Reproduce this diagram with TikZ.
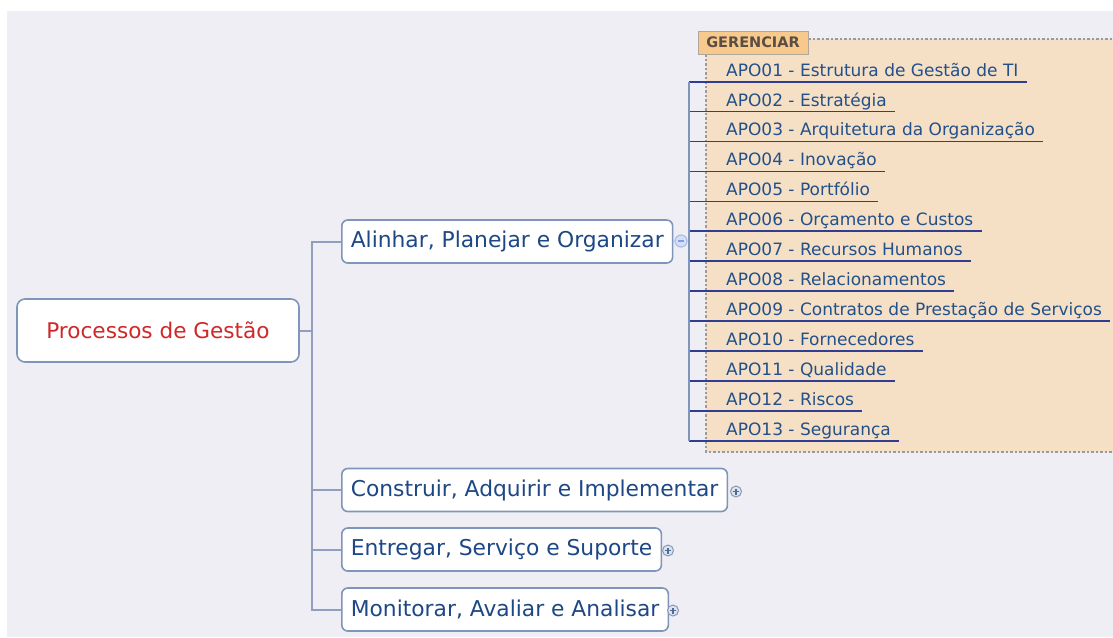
\documentclass[tikz,border=0pt]{standalone}
\usepackage{fontspec}
\setmainfont{DejaVu Sans}
\definecolor{bggray}{HTML}{EFEEF4}
\definecolor{peach}{HTML}{F5E0C6}
\definecolor{labelfill}{HTML}{F8C98C}
\definecolor{labelborder}{HTML}{B0A898}
\definecolor{labeltext}{HTML}{5A4E44}
\definecolor{roottext}{HTML}{D02828}
\definecolor{nodetext}{HTML}{1E4785}
\definecolor{apotext}{HTML}{22508A}
\definecolor{boxborder}{HTML}{7F95BA}
\definecolor{connline}{HTML}{8EA0BE}
\definecolor{navy}{HTML}{2F3E93}
\definecolor{dashgray}{HTML}{9A9A9A}
\definecolor{iconfill}{HTML}{DCE3EE}
\definecolor{iconborder}{HTML}{8A9AB5}
\definecolor{minusfill}{HTML}{D4E0F6}
\definecolor{minusborder}{HTML}{A9C0EA}
\begin{document}
\begin{tikzpicture}[x=1pt,y=-1pt,
  rootbox/.style={draw=boxborder,line width=1.6pt,fill=white,rounded corners=8pt,
    minimum width=282pt,minimum height=63pt,inner sep=0pt,text=roottext,
    font=\fontsize{21.6}{26}\selectfont},
  mainbox/.style={draw=boxborder,line width=1.6pt,fill=white,rounded corners=6pt,
    minimum height=43pt,inner xsep=9pt,inner ysep=0pt,text=nodetext,
    font=\fontsize{21.8}{26}\selectfont,anchor=west},
  apo/.style={anchor=south west,inner xsep=8pt,inner ysep=0pt,text height=13pt,
    text depth=5.4pt,text=apotext,font=\fontsize{17}{20}\selectfont},
  uline/.style={draw=navy,line width=1.7pt},
  vline/.style={draw=boxborder,line width=1.7pt},
  conn/.style={draw=connline,line width=2pt},
  gerlabel/.style={draw=labelborder,fill=labelfill,line width=1pt,minimum width=110pt,
    minimum height=23pt,inner sep=0pt,text=labeltext,font=\fontsize{14.5}{17}\bfseries\selectfont},
  plusicon/.style={circle,draw=iconborder,fill=iconfill,line width=1pt,minimum size=11pt,inner sep=0pt},
  minusicon/.style={circle,draw=minusborder,fill=minusfill,line width=1.2pt,minimum size=12pt,inner sep=0pt},
  sign/.style={draw=nodetext!80,line width=1.1pt}
]
\useasboundingbox (0,0) rectangle (1113,637);
\fill[white] (0,0) rectangle (1113,637);
\fill[bggray] (7,11) rectangle (1113,637);

% GERENCIAR area
\fill[peach] (706,39) rectangle (1113,452);
\draw[dashgray,dash pattern=on 2.5pt off 2pt,line width=1.2pt] (808,39) -- (1113,39);
\draw[dashgray,dash pattern=on 2.5pt off 2pt,line width=1.2pt] (706,54) -- (706,452) -- (1113,452);
\node[gerlabel] (ger) at (753,42.7) {GERENCIAR};

% APO items
\foreach \t [count=\i] in {APO01 - Estrutura de Gestão de TI,
  APO02 - Estratégia,
  APO03 - Arquitetura da Organização,
  APO04 - Inovação,
  APO05 - Portfólio,
  APO06 - Orçamento e Custos,
  APO07 - Recursos Humanos,
  APO08 - Relacionamentos,
  APO09 - Contratos de Prestação de Serviços,
  APO10 - Fornecedores,
  APO11 - Qualidade,
  APO12 - Riscos,
  APO13 - Segurança} {
  \pgfmathsetmacro\yy{81.7+29.92*(\i-1)}
  \coordinate (c\i) at (689,\yy);
  \node[apo] (a\i) at (718,\yy) {\t};
  \draw[uline] (c\i) -- (a\i.south east);
}
\draw[vline] (c1) -- (c13);

% main nodes
\node[rootbox] (root) at (158,330.5) {Processos de Gestão};
\node[mainbox] (apo) at (341,241.5) {Alinhar, Planejar e Organizar};
\node[mainbox] (bai) at (341,490) {Construir, Adquirir e Implementar};
\node[mainbox] (dss) at (341,549.5) {Entregar, Serviço e Suporte};
\node[mainbox] (mea) at (341,609.5) {Monitorar, Avaliar e Analisar};

% connectors
\coordinate (j) at (312,330.5);
\draw[conn] (root.east) -- (j);
\draw[conn] (apo.west) -| (j) |- (mea.west);
\draw[conn] (j |- bai.west) -- (bai.west);
\draw[conn] (j |- dss.west) -- (dss.west);

% collapse / expand icons
\node[minusicon] (m1) at (681,241) {};
\draw[draw=minusborder,line width=1.2pt] (apo.east) -- (m1.west);
\draw[draw=minusborder!80!blue,line width=1.1pt] ([xshift=-3pt]m1.center) -- ([xshift=3pt]m1.center);
\foreach \n/\x/\y in {p1/736/491.5, p2/668/550.5, p3/673/610.5} {
  \node[plusicon] (\n) at (\x,\y) {};
  \draw[sign] ([xshift=-3pt]\n.center) -- ([xshift=3pt]\n.center);
  \draw[sign] ([yshift=-3pt]\n.center) -- ([yshift=3pt]\n.center);
}
\end{tikzpicture}
\end{document}
